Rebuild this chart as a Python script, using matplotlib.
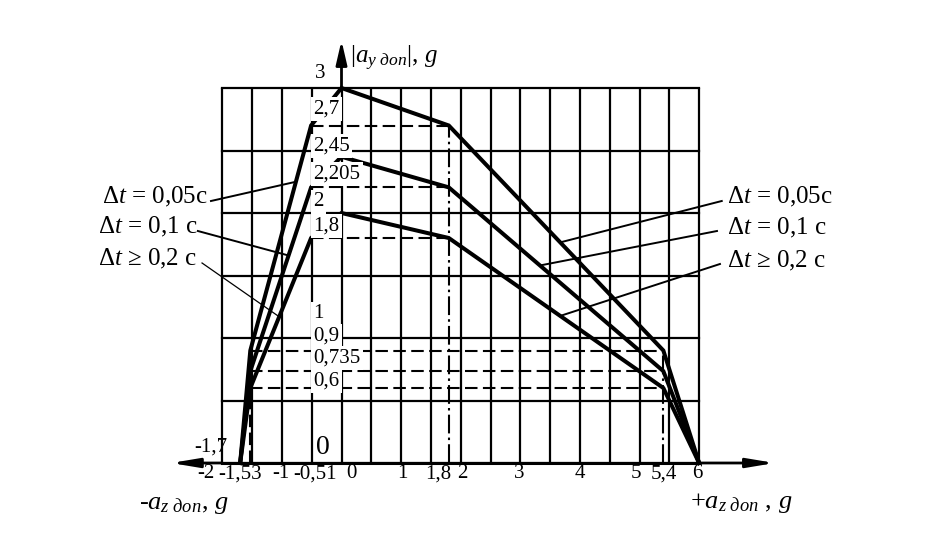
import numpy as np
import matplotlib
matplotlib.use('Agg')
import matplotlib.pyplot as plt

plt.rcParams['font.family'] = ['Liberation Serif', 'DejaVu Serif']
plt.rcParams['mathtext.fontset'] = 'custom'
plt.rcParams['mathtext.rm'] = 'Liberation Serif'
plt.rcParams['mathtext.it'] = 'Liberation Serif:italic'
plt.rcParams['mathtext.bf'] = 'Liberation Serif:bold'

# ---------------- data ----------------
break_x = [-1.7, -1.53, -0.51, 0.0, 1.8, 5.4, 6.0]
curve_005 = [0.0, 0.9, 2.7, 3.0, 2.7, 0.9, 0.0]
curve_01 = [0.0, 0.735, 2.205, 2.45, 2.205, 0.735, 0.0]
curve_02 = [0.0, 0.6, 1.8, 2.0, 1.8, 0.6, 0.0]
series_labels = [r'$\Delta t$ = 0,05c', r'$\Delta t$ = 0,1 c', r'$\Delta t$ ≥ 0,2 c']

x_tick_values = [-2, -1.53, -1, -0.51, 0, 1, 1.8, 2, 3, 4, 5, 5.4, 6]
x_tick_labels = ['-2', '-1,53', '-1', '-0,51', '0', '1', '1,8', '2', '3', '4', '5', '5,4', '6']
y_mark_values = [3, 2.7, 2.45, 2.205, 2, 1.8, 1, 0.9, 0.735, 0.6]
y_mark_labels = ['3', '2,7', '2,45', '2,205', '2', '1,8', '1', '0,9', '0,735', '0,6']

grid_x = np.arange(-2, 6.01, 0.5)
grid_y = np.arange(0, 3.01, 0.5)

# ---------------- layout (styles / positions) ----------------
X0, SX = 341.5, 59.6      # pixel of x=0, pixels per unit
Y0, SY = 463.0, 125.0     # pixel of y=0, pixels per unit
W, H = 930, 538

fig = plt.figure(figsize=(W / 100, H / 100), dpi=100)
ax = fig.add_axes([0, 0, 1, 1])
ax.set_xlim(-X0 / SX, (W - X0) / SX)
ax.set_ylim((Y0 - H) / SY, Y0 / SY)
ax.axis('off')

GRID_LW = 1.6
# grid
for gx in grid_x:
    ax.plot([gx, gx], [grid_y[0], grid_y[-1]], color='black', lw=GRID_LW, zorder=1,
            solid_capstyle='butt')
for gy in grid_y:
    ax.plot([grid_x[0], grid_x[-1]], [gy, gy], color='black', lw=GRID_LW, zorder=1,
            solid_capstyle='projecting')

# axes arrows
ARROW = dict(arrowstyle='-|>,head_length=1.5,head_width=0.25', lw=2,
             color='black', mutation_scale=11, shrinkA=0, shrinkB=0)
ax.annotate('', xy=(7.27, 0), xytext=(6, 0), arrowprops=ARROW, zorder=2)
ax.annotate('', xy=(-2.86, 0), xytext=(-2, 0), arrowprops=ARROW, zorder=2)
ax.annotate('', xy=(0, 3.38), xytext=(0, 3.0),
            arrowprops=dict(arrowstyle='-|>,head_length=1.3,head_width=0.3', lw=2,
                            color='black', mutation_scale=11, shrinkA=0, shrinkB=0), zorder=2)
ax.plot([grid_x[0], grid_x[-1]], [0, 0], color='black', lw=2.2, zorder=2)

# dashed helper lines
DASH = (0, (6, 2.6))
DASHDOT = (0, (9, 2, 1.2, 2))
for c in (curve_005, curve_01, curve_02):
    ax.plot([break_x[2], break_x[4]], [c[4], c[4]], color='black', lw=1.5, ls=DASH, zorder=2)
    ax.plot([break_x[1], break_x[5]], [c[5], c[5]], color='black', lw=1.5, ls=DASH, zorder=2)
ax.plot([break_x[4], break_x[4]], [0, curve_005[4]], color='black', lw=1.5, ls=DASHDOT, zorder=2)
ax.plot([break_x[5], break_x[5]], [0, curve_005[5]], color='black', lw=1.5, ls=DASHDOT, zorder=2)
ax.plot([break_x[1], break_x[1]], [0, curve_005[1]], color='black', lw=1.5, ls=DASH, zorder=2)

# curves
for c in (curve_005, curve_01, curve_02):
    ax.plot(break_x, c, color='black', lw=2.9, zorder=3, solid_joinstyle='miter')

# leader lines and labels
def left_attach(c, yv):
    return np.interp(yv, [c[1], c[2]], [break_x[1], break_x[2]]), yv

def right_attach(c, xv):
    return xv, np.interp(xv, break_x, c)

curves = (curve_005, curve_01, curve_02)
left_ys = [2.25, 1.66, 1.17]
left_starts = [(-2.19, 2.096), (-2.41, 1.856), (-2.34, 1.60)]
left_text = [(-2.24, 2.128), (-2.42, 1.888), (-2.42, 1.632)]
left_lw = [1.4, 1.4, 0.9]
right_xs = [3.67, 3.33, 3.67]
right_starts = [(6.38, 2.096), (6.30, 1.856), (6.35, 1.592)]
right_text = [(6.47, 2.128), (6.47, 1.880), (6.47, 1.616)]
FS_LEG = 18
for i, c in enumerate(curves):
    ex, ey = left_attach(c, left_ys[i])
    ax.plot([left_starts[i][0], ex], [left_starts[i][1], ey], color='black',
            lw=left_lw[i], zorder=4)
    ax.text(left_text[i][0], left_text[i][1], series_labels[i], ha='right', va='center',
            fontsize=FS_LEG, zorder=6)
    ex, ey = right_attach(c, right_xs[i])
    ax.plot([right_starts[i][0], ex], [right_starts[i][1], ey], color='black',
            lw=1.4, zorder=4)
    ax.text(right_text[i][0], right_text[i][1], series_labels[i], ha='left', va='center',
            fontsize=FS_LEG, zorder=6)

# x tick labels below axis
x_off = [-16, -10, -1, 4, 10, 1, -11, 2, -1, 0, -4, 1, -2]
for v, lab, dx in zip(x_tick_values, x_tick_labels, x_off):
    ax.annotate(lab, xy=(v, 0), xytext=(dx, -11), textcoords='offset pixels',
                ha='center', va='center', fontsize=15, zorder=6)

# y value labels (left of the vertical axis)
y_off = [14, 16.5, 11, 13, 11, 12, 24, 14.5, 13, 7]
for v, lab, dy in zip(y_mark_values, y_mark_labels, y_off):
    dx = 2 if lab == '3' else 0
    ax.annotate(lab, xy=(-0.475, v), xytext=(dx, dy), textcoords='offset pixels',
                ha='left', va='center', fontsize=15, zorder=7,
                bbox=dict(boxstyle='square,pad=0.12', fc='white', ec='none'))

# extra labels
ax.annotate('0', xy=(0, 0), xytext=(-19, 15), textcoords='offset pixels',
            ha='center', va='center', fontsize=20, zorder=6)
ax.annotate('-1,7', xy=(break_x[0], 0), xytext=(-29, 16), textcoords='offset pixels',
            ha='center', va='center', fontsize=15, zorder=6)

# axis titles
ax.text(0.14, 3.24, r'$|a_{y\ доп}|,\!\ g$', ha='left', va='center', fontsize=18, zorder=6)
ax.text(-3.40, -0.34, r'$\text{-}a_{z\ доп},\!\ g$', ha='left', va='center', fontsize=19, zorder=6)
ax.text(5.85, -0.32, r'$+a_{z\ доп}\ ,\!\ g$', ha='left', va='center', fontsize=19, zorder=6)

fig.savefig('out.png', dpi=100, facecolor='white')
